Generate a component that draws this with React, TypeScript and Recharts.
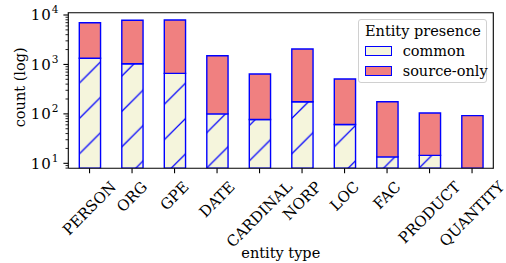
import React from 'react';
import { BarChart, Bar, XAxis, YAxis, Legend, Label } from 'recharts';

// ---- data ----
const categories = ['PERSON', 'ORG', 'GPE', 'DATE', 'CARDINAL', 'NORP', 'LOC', 'FAC', 'PRODUCT', 'QUANTITY'];
const commonCounts = [1330, 1030, 661, 100, 77, 176, 61, 13.5, 14.5, 0];
const sourceOnlyCounts = [5650, 6790, 7270, 1400, 563, 1874, 445, 162, 90, 92];
const seriesNames = ['common', 'source-only'];
const yDomain: [number, number] = [7.93, 11130];
const decadeExponents = [0, 1, 2, 3, 4];
const tickMultipliers = [1, 2, 3, 4, 5, 6, 7, 8, 9];

const data = categories.map((c, i) => ({
  entity: c,
  common: commonCounts[i],
  sourceOnly: sourceOnlyCounts[i],
}));

const yTicks: number[] = [];
decadeExponents.forEach((e) => {
  tickMultipliers.forEach((m) => {
    const v = m * Math.pow(10, e);
    if (v >= yDomain[0] && v <= yDomain[1]) yTicks.push(v);
  });
});

// ---- layout / style ----
const W = 506;
const H_ = 263;
const M = { top: 12.7, right: 12.7, left: 0, bottom: 0 };
const Y_AXIS_W = 68.3;
const X_AXIS_H = 94.7;
const FONT = "'DejaVu Serif', serif";
const FS = 14.5;
const TICK_FS = 15;
const BEIGE = '#f5f5dc';
const CORAL = '#f08080';
const BLUE = '#0000ff';
const HATCH_S = 35.4;
const HATCH_P = 20.8;
const SPINE = 1.1;

let ctx: CanvasRenderingContext2D | null = null;
const measure = (t: string, size: number) => {
  if (!ctx) {
    const c = document.createElement('canvas');
    ctx = c.getContext('2d');
  }
  if (!ctx) return t.length * size * 0.65;
  ctx.font = `${size}px 'DejaVu Serif'`;
  return ctx.measureText(t).width;
};

const YTick = (props: any) => {
  const { x, y, payload } = props;
  const v = payload.value as number;
  const exp = Math.log10(v);
  const isMajor = Math.abs(exp - Math.round(exp)) < 1e-9;
  const len = isMajor ? 4.9 : 2.8;
  return (
    <g>
      <line x1={x} x2={x - len} y1={y} y2={y} stroke="#000" strokeWidth={isMajor ? 1.1 : 0.85} />
      {isMajor && (
        <text x={x - 9.8} y={y + 5.2} textAnchor="end" fontFamily={FONT} fontSize={TICK_FS} fill="#000">
          <tspan letterSpacing={1}>10</tspan>
          <tspan dy={-6.9} fontSize={10.5}>{Math.round(exp)}</tspan>
        </text>
      )}
    </g>
  );
};

const XTick = (props: any) => {
  const { x, y, payload } = props;
  const label = String(payload.value);
  const w = measure(label, TICK_FS);
  const h = TICK_FS * 1.164;
  const H = (w + h) / Math.SQRT2;
  const cy = y + H / 2;
  return (
    <text
      x={x}
      y={cy}
      textAnchor="middle"
      dominantBaseline="central"
      transform={`rotate(-45 ${x} ${cy})`}
      fontFamily={FONT}
      fontSize={TICK_FS}
      fill="#000"
    >
      {label}
    </text>
  );
};

// y-axis title; also closes the plot frame (top and right spines)
const YLabel = (props: any) => {
  const vb = props.viewBox || { x: M.left, y: M.top, width: Y_AXIS_W, height: H_ - M.top - M.bottom - X_AXIS_H };
  const cx = vb.x + 20.3;
  const cy = vb.y + vb.height / 2 - 3.2;
  const left = vb.x + vb.width;
  const right = W - M.right;
  const top = vb.y;
  const bottom = vb.y + vb.height;
  return (
    <g>
      <path d={`M${left},${top} L${right},${top} L${right},${bottom}`} stroke="#000" strokeWidth={SPINE} fill="none" strokeLinecap="square" />
      <text
        x={cx}
        y={cy}
        textAnchor="middle"
        dominantBaseline="central"
        transform={`rotate(-90 ${cx} ${cy})`}
        fontFamily={FONT}
        fontSize={FS}
        fill="#000"
      >
        count (log)
      </text>
    </g>
  );
};

const XLabel = (props: any) => {
  const vb = props.viewBox || { x: 68.3, y: 168.3, width: 425, height: 94.7 };
  return (
    <text x={vb.x + vb.width / 2} y={vb.y + vb.height - 5} textAnchor="middle" fontFamily={FONT} fontSize={FS} fill="#000">
      entity type
    </text>
  );
};

const swatchFill: Record<string, string> = { common: BEIGE, 'source-only': CORAL };

const LegendContent = (props: any) => {
  const payload = (props.payload || []) as any[];
  const items = payload.length ? payload.map((p) => String(p.value)) : seriesNames;
  return (
    <div
      style={{
        position: 'relative',
        width: 128.4,
        height: 64.3,
        boxSizing: 'border-box',
        border: '1px solid #d0d0d0',
        borderRadius: 3,
        background: 'rgba(255,255,255,0.8)',
        fontFamily: FONT,
        fontSize: FS,
        color: '#000',
      }}
    >
      <div style={{ position: 'absolute', left: 5.7, top: 3.2, lineHeight: '16px', whiteSpace: 'nowrap' }}>Entity presence</div>
      {items.map((name, i) => (
        <React.Fragment key={name}>
          <div
            style={{
              position: 'absolute',
              left: 5.7,
              top: 26 + i * 19.7,
              width: 27.3,
              height: 10,
              boxSizing: 'border-box',
              border: `1.4px solid ${BLUE}`,
              background: swatchFill[name] || BEIGE,
            }}
          />
          <div style={{ position: 'absolute', left: 43.4, top: 23 + i * 19.7, lineHeight: '16px', whiteSpace: 'nowrap' }}>{name}</div>
        </React.Fragment>
      ))}
    </div>
  );
};

export default function App() {
  return (
    <div style={{ position: 'absolute', left: 0, top: 0, width: W, height: H_, background: '#fff', fontFamily: FONT }}>
      <BarChart width={W} height={H_} data={data} margin={M} barSize={21.25}>
        <defs>
          <pattern id="hatch" patternUnits="userSpaceOnUse" x={0} y={0} width={HATCH_S} height={HATCH_S}>
            <rect x={0} y={0} width={HATCH_S} height={HATCH_S} fill={BEIGE} />
            <path
              d={`M${-2},${HATCH_P + 2} L${HATCH_P + 2},${-2} M${HATCH_P - 2},${HATCH_S + 2} L${HATCH_S + 2},${HATCH_P - 2}`}
              stroke={BLUE}
              strokeWidth={1.3}
              fill="none"
            />
          </pattern>
        </defs>
        <XAxis
          dataKey="entity"
          type="category"
          height={X_AXIS_H}
          interval={0}
          tickSize={4.9}
          tickMargin={4.9}
          tickLine={{ stroke: '#000', strokeWidth: 1.1 }}
          axisLine={{ stroke: '#000', strokeWidth: SPINE }}
          tick={<XTick />}
        >
          <Label content={<XLabel />} />
        </XAxis>
        <YAxis
          type="number"
          scale="log"
          domain={yDomain}
          allowDataOverflow
          ticks={yTicks}
          interval={0}
          width={Y_AXIS_W}
          tickSize={0}
          tickMargin={0}
          tickLine={false}
          axisLine={{ stroke: '#000', strokeWidth: SPINE }}
          tick={<YTick />}
        >
          <Label content={<YLabel />} />
        </YAxis>
        <Legend
          layout="vertical"
          align="center"
          verticalAlign="middle"
          wrapperStyle={{ position: 'absolute', left: 358.3, top: 19, width: 128.4, height: 64.3 }}
          content={<LegendContent />}
        />
        <Bar dataKey="common" name={seriesNames[0]} stackId="a" fill="url(#hatch)" stroke={BLUE} strokeWidth={1.4} isAnimationActive={false} />
        <Bar dataKey="sourceOnly" name={seriesNames[1]} stackId="a" fill={CORAL} stroke={BLUE} strokeWidth={1.4} isAnimationActive={false} />
      </BarChart>
    </div>
  );
}
